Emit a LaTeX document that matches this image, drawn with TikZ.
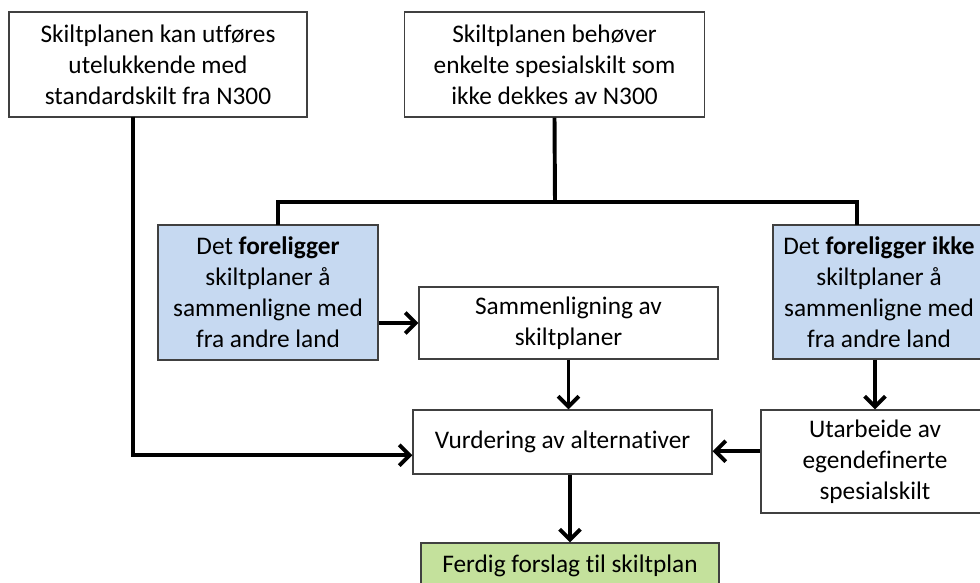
\documentclass[tikz,border=0pt]{standalone}
\usepackage{fontspec}
\setmainfont{Carlito}[Ligatures=NoCommon]
\usepackage{xcolor}
\usetikzlibrary{arrows.meta}
\definecolor{boxblue}{RGB}{198,217,241}
\definecolor{boxgreen}{RGB}{196,225,156}
\definecolor{boxline}{RGB}{64,64,64}

\begin{document}
\begin{tikzpicture}[x=0.025cm,y=-0.025cm,
  box/.style={rectangle,draw=boxline,line width=0.8pt,align=center,inner sep=0pt,
    font=\fontsize{18}{22}\selectfont},
  conn/.style={line width=2.8pt,black},
  arr/.style={conn,-{Straight Barb[length=2.6mm,width=5.2mm]}}]
\useasboundingbox (0,0) rectangle (980,583);

\node (A) at (158,64.5) [box,minimum width=298*0.025cm,minimum height=105*0.025cm] {Skiltplanen kan utføres\\utelukkende med\\standardskilt fra N300};
\node (B) at (554.5,64.5) [box,minimum width=300*0.025cm,minimum height=105*0.025cm] {Skiltplanen behøver\\enkelte spesialskilt som\\ikke dekkes av N300};

\node (L) at (268,292.5) [box,fill=boxblue,minimum width=220*0.025cm,minimum height=135*0.025cm] {Det \textbf{foreligger}\\skiltplaner å\\sammenligne med\\fra andre land};
\node (R) at (879,292) [box,fill=boxblue,minimum width=212*0.025cm,minimum height=134*0.025cm] {Det \textbf{foreligger ikke}\\skiltplaner å\\sammenligne med\\fra andre land};

\node (S) at (568.5,323) [box,minimum width=299*0.025cm,minimum height=72*0.025cm] {Sammenligning av\\skiltplaner};
\node (V) at (562.5,442) [box,minimum width=299*0.025cm,minimum height=64*0.025cm] {Vurdering av alternativer};
\node (U) at (875,461.5) [box,minimum width=228*0.025cm,minimum height=103*0.025cm] {Utarbeide av\\egendefinerte\\spesialskilt};
\node (F) at (570,566) [box,fill=boxgreen,minimum width=298*0.025cm,minimum height=46*0.025cm] {Ferdig forslag til skiltplan};

\coordinate (split) at (555,202);
\coordinate (Ltop) at (278,225);
\coordinate (Rtop) at (857,225);
\coordinate (Abot) at (133,117);
\coordinate (Vin) at ([yshift=-0.33cm]V.west);
\coordinate (Vout) at ([yshift=-0.23cm]V.east);

\draw[conn] (B.south) -- (split);
\draw[conn] (Ltop) |- (split) -| (Rtop);
\draw[arr] (Abot) |- (Vin);
\draw[arr] (L.east |- S.west) -- (S.west);
\draw[arr] (S.south) -- (S.south |- V.north);
\draw[arr] (R.south -| U.north) -- (U.north);
\draw[arr] (U.west |- Vout) -- (Vout);
\draw[arr] (V.south -| F.north) -- (F.north);
\end{tikzpicture}
\end{document}
